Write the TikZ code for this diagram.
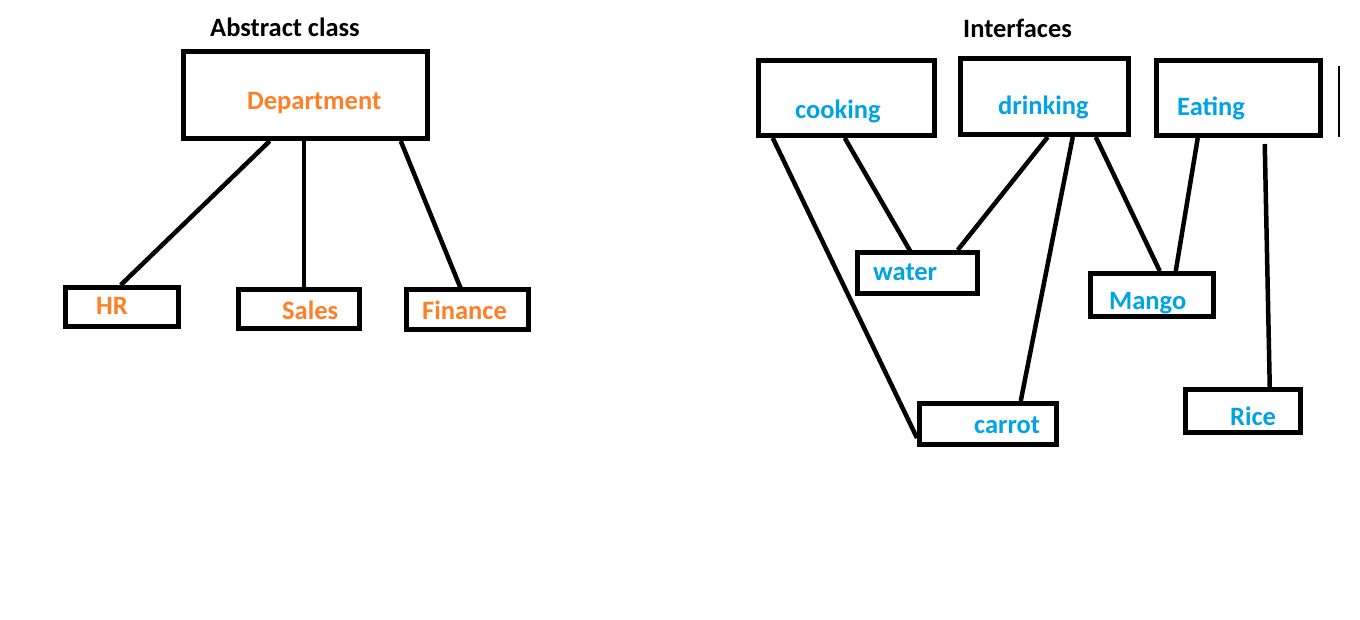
\documentclass[tikz,border=0pt]{standalone}
\usepackage{fontspec}
\setmainfont{Carlito}
\usetikzlibrary{calc}
\definecolor{paintorange}{RGB}{255,127,39}
\definecolor{paintblue}{RGB}{0,162,232}
\tikzset{
  box/.style={draw=black, line width=5pt, rectangle, inner sep=0pt},
  conn/.style={draw=black, line width=4.5pt},
  lbl/.style={anchor=base west, inner sep=0pt, font=\fontsize{26.5}{30}\selectfont\bfseries},
  orangetext/.style={lbl, text=paintorange},
  bluetext/.style={lbl, text=paintblue},
  titletext/.style={lbl, text=black},
}
\begin{document}
\begin{tikzpicture}[x=1pt,y=-1pt]
\useasboundingbox (0,0) rectangle (1360,619);
\fill[white] (0,0) rectangle (1360,619);

% boxes
\node[box, minimum width=244, minimum height=87] (dept) at (305.5,95) {};
\node[box, minimum width=113, minimum height=39] (hr) at (122,307) {};
\node[box, minimum width=121, minimum height=39] (sales) at (299,309) {};
\node[box, minimum width=122, minimum height=40] (fin) at (467.5,309.5) {};

\node[box, minimum width=176, minimum height=75] (cook) at (846.5,98) {};
\node[box, minimum width=168, minimum height=76] (drink) at (1044.5,96.5) {};
\node[box, minimum width=164, minimum height=75] (eat) at (1238.5,98) {};
\node[box, minimum width=120, minimum height=41] (water) at (917.5,273) {};
\node[box, minimum width=123, minimum height=43] (mango) at (1152,295) {};
\node[box, minimum width=137, minimum height=41] (carrot) at (988,424) {};
\node[box, minimum width=115, minimum height=43] (rice) at (1243,411) {};

% thin stray line
\draw[line width=1.5pt] (1339,66) -- (1339,137);

% texts
\node[titletext] (tabs) at (210,36) {Abstract class};
\node[orangetext] (tdept) at (247,109) {Department};
\node[orangetext] (thr) at (96,314) {HR};
\node[orangetext] (tsales) at (282,319) {Sales};
\node[orangetext] (tfin) at (422,319) {Finance};

\node[titletext] (tint) at (963,37) {Interfaces};
\node[bluetext] (tcook) at (795,118) {cooking};
\node[bluetext] (tdrink) at (998,114) {drinking};
\node[bluetext] (teat) at (1177,115) {Eating};
\node[bluetext] (twater) at (873,280) {water};
\node[bluetext] (tmango) at (1109,309) {Mango};
\node[bluetext] (tcarrot) at (974,433) {carrot};
\node[bluetext] (trice) at (1230,425) {Rice};

% connectors: abstract class
\draw[conn] ($(dept.south west)+(88.75,0)$) -- ($(hr.north west)+(57.75,0)$);
\draw[conn] ($(dept.south west)+(122.75,0)$) -- ($(sales.north west)+(67.75,0)$);
\draw[conn] ($(dept.south west)+(219.75,0)$) -- ($(fin.north west)+(57.75,4)$);

% connectors: interfaces
\draw[conn] ($(cook.south west)+(16.75,0)$) -- ($(carrot.north west)+(0,37)$);
\draw[conn] ($(cook.south west)+(88.75,0)$) -- ($(water.north west)+(55.75,2)$);
\draw[conn] ($(drink.south west)+(89.75,0)$) -- ($(water.north west)+(102.75,0)$);
\draw[conn] ($(drink.south west)+(114.75,0)$) -- ($(carrot.north west)+(103.75,0)$);
\draw[conn] ($(drink.south west)+(137.75,0)$) -- ($(mango.north west)+(71.75,0)$);
\draw[conn] ($(eat.south west)+(43.75,0)$) -- ($(mango.north west)+(87.75,0)$);
\draw[conn] ($(eat.south west)+(110.75,6)$) -- ($(rice.north west)+(86.75,0)$);
\end{tikzpicture}
\end{document}
